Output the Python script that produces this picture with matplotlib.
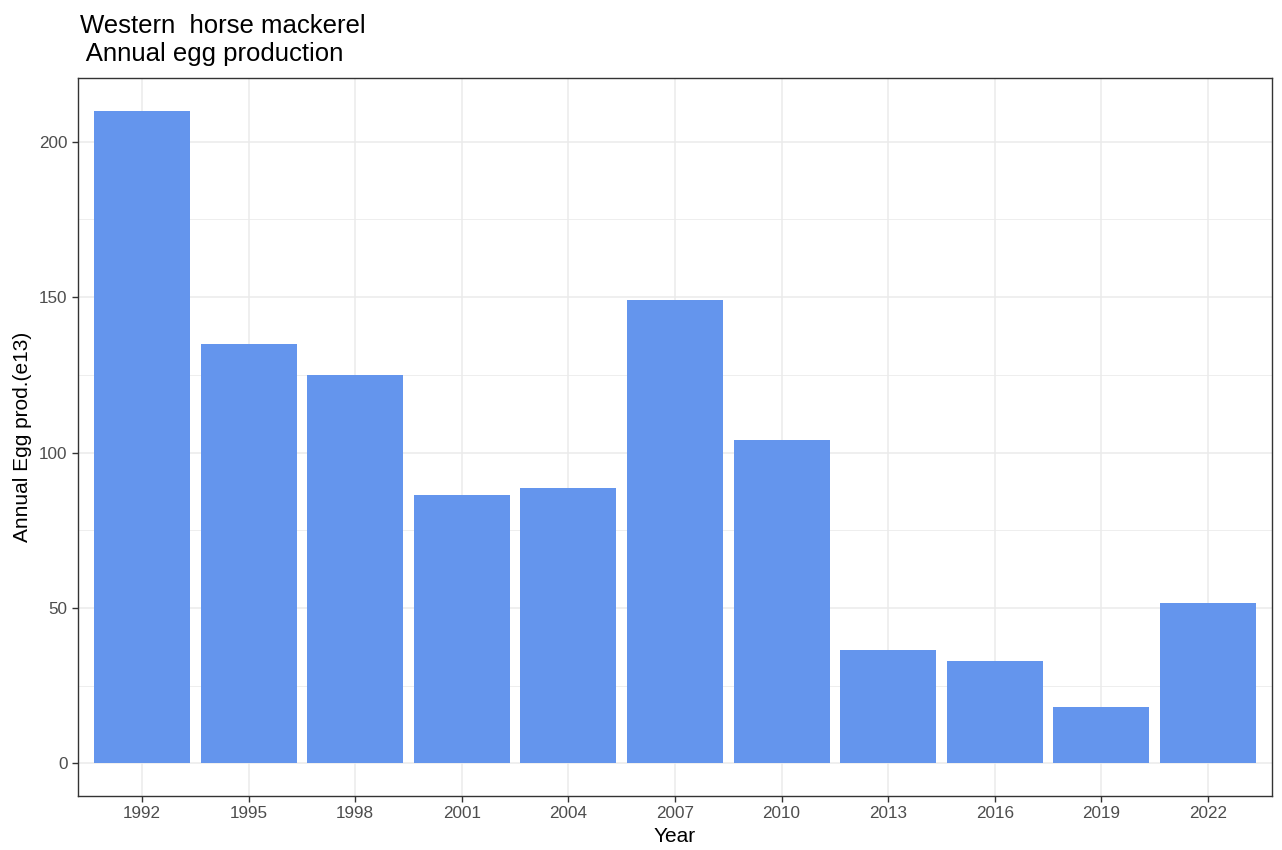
import matplotlib
matplotlib.use('Agg')
import matplotlib.pyplot as plt
import numpy as np

plt.rcParams['font.family'] = ['Liberation Sans', 'DejaVu Sans']

years = ['1992', '1995', '1998', '2001', '2004', '2007', '2010', '2013', '2016', '2019', '2022']
egg_prod = [210, 135, 125, 86.5, 88.5, 149, 104, 36.5, 33, 18, 51.5]
y_ticks = [0, 50, 100, 150, 200]

fig = plt.figure(figsize=(12.82, 8.5), dpi=100)
ax = fig.add_axes([0.0608, 0.0635, 0.9314, 0.8447])

x = np.arange(1, len(years) + 1)
ax.bar(x, egg_prod, width=0.9, color='#6495ED', zorder=3)

ax.set_xlim(0.4, len(years) + 0.6)
ymax = max(egg_prod)
ax.set_ylim(-0.05 * ymax, ymax * 1.05)

ax.set_xticks(x)
ax.set_xticklabels(years)
ax.set_yticks(y_ticks)
ax.set_yticks([25, 75, 125, 175], minor=True)
ax.tick_params(axis='both', which='major', labelsize=12.3, labelcolor='#4D4D4D',
               color='#333333', length=4, width=1)
ax.tick_params(axis='y', which='minor', length=0)

ax.grid(True, which='major', color='#EBEBEB', linewidth=1.1, zorder=0)
ax.grid(True, which='minor', axis='y', color='#EBEBEB', linewidth=0.6, zorder=0)
ax.set_axisbelow(True)
for s in ax.spines.values():
    s.set_color('#333333')
    s.set_linewidth(1.0)

ax.set_xlabel('Year', fontsize=15, labelpad=4)
ax.set_ylabel('Annual Egg prod.(e13)', fontsize=15, labelpad=5)

# two-line title, as in the original
fig.text(0.0624, 1 - 33 / 850, 'Western  horse mackerel',
         fontsize=18.5, ha='left', va='baseline')
fig.text(0.0624, 1 - 61 / 850, ' Annual egg production',
         fontsize=18.5, ha='left', va='baseline')

fig.savefig('out.png', dpi=100)
